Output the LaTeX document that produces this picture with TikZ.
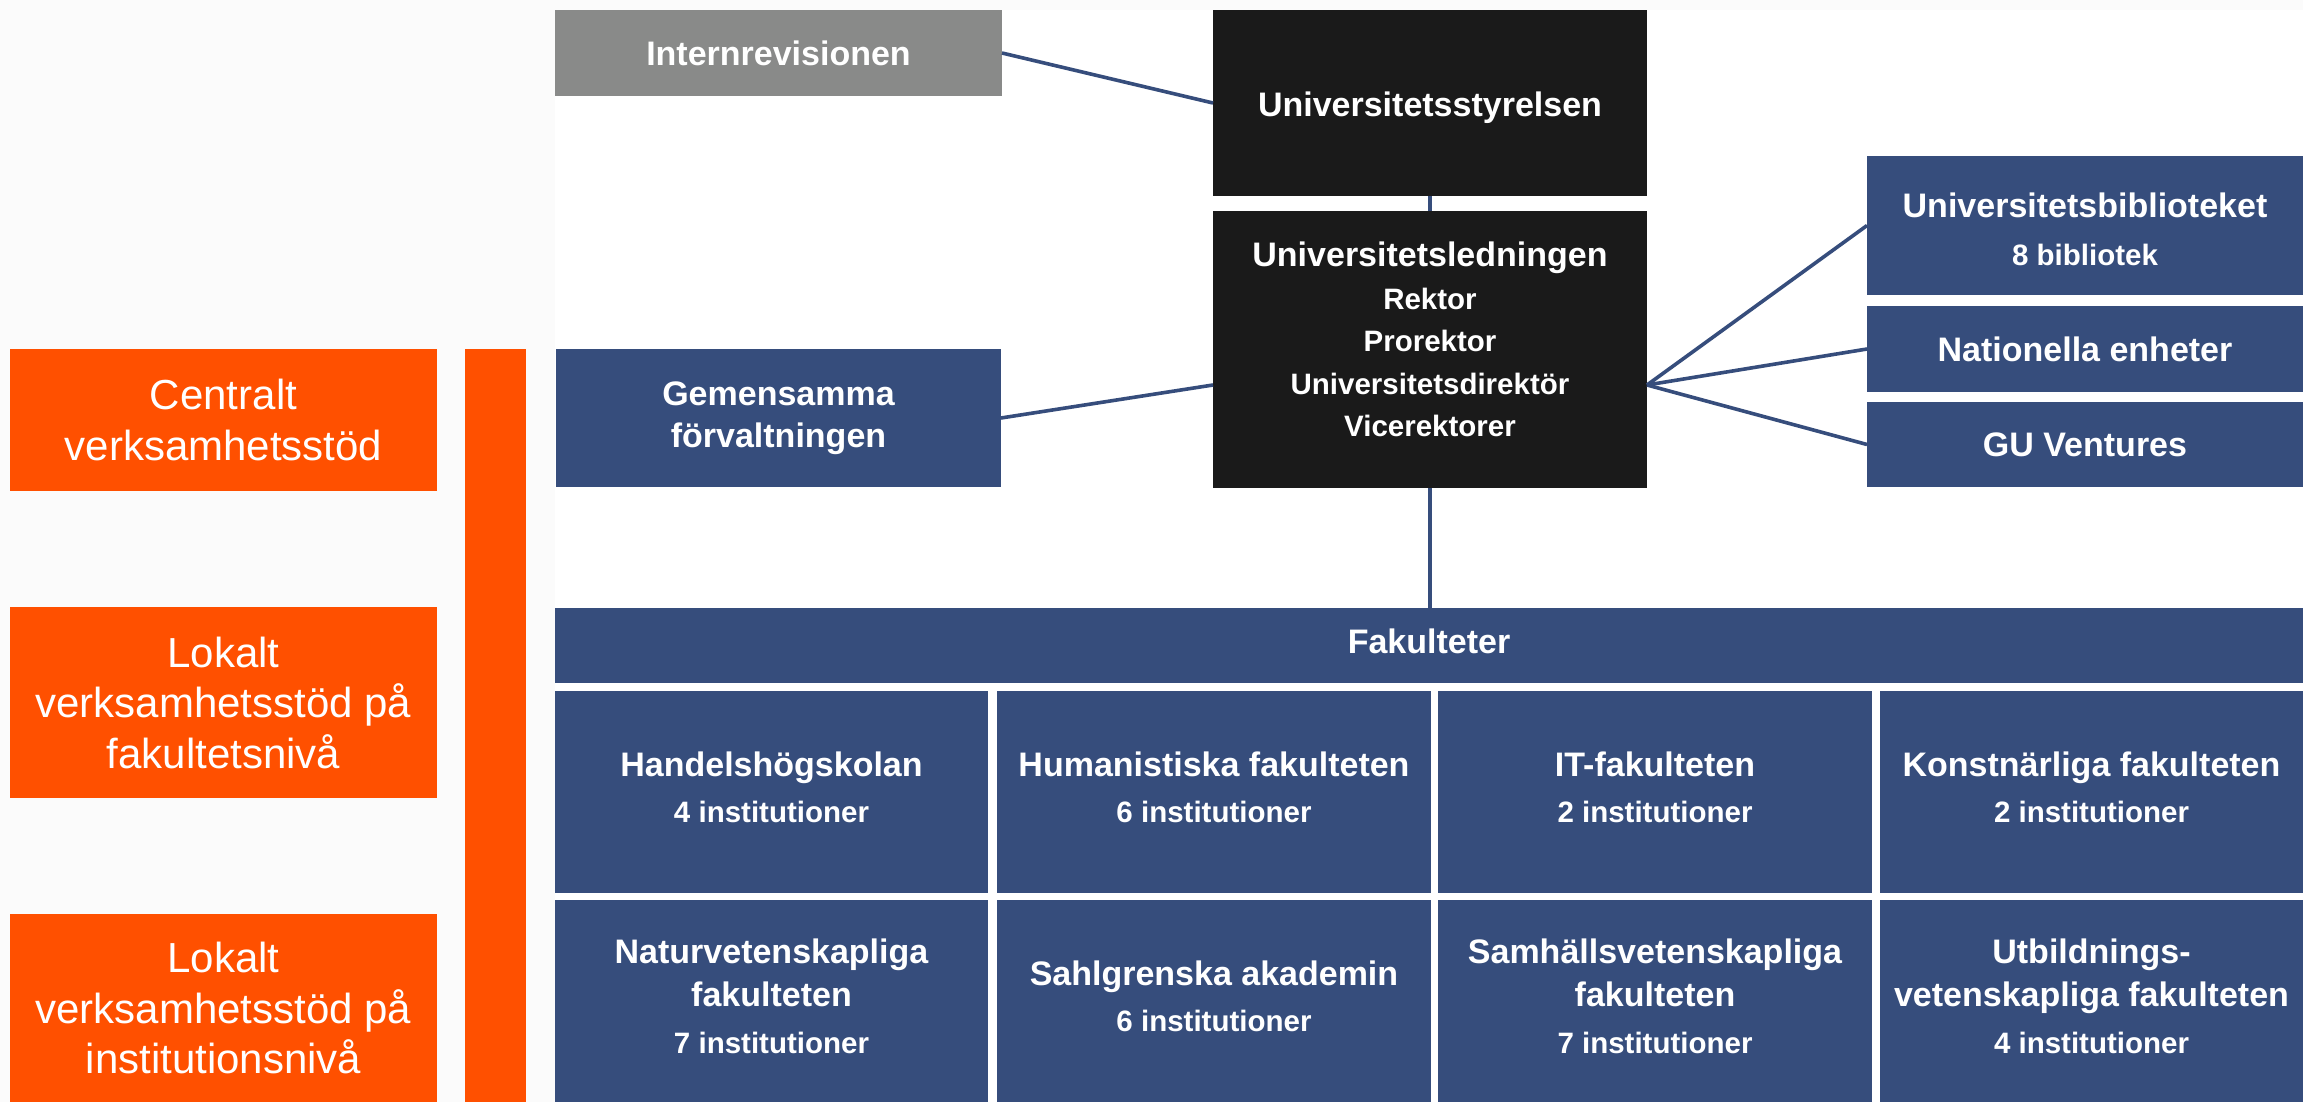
\documentclass[tikz,border=0pt]{standalone}
\usepackage{fontspec}
\setmainfont{Liberation Sans}
\definecolor{navy}{HTML}{364D7C}
\definecolor{guorange}{HTML}{FF5000}
\definecolor{revgray}{HTML}{898A89}
\definecolor{boardblack}{HTML}{1A1A1A}
\definecolor{pagebg}{HTML}{FBFBFB}
\newcommand\subf{\fontsize{14.75}{21.5}\selectfont}
\begin{document}
\begin{tikzpicture}[x=0.5pt,y=-0.5pt,
  area/.style n args={4}{minimum width={(#3-#1)*0.5pt}, minimum height={(#4-#2)*0.5pt}, at={({(#1+#3)/2},{(#2+#4)/2})}},
  box/.style={inner sep=0pt, outer sep=0pt, text=white, align=center},
  navybox/.style={box, fill=navy, font=\fontsize{17}{21.5}\selectfont\bfseries},
  blackbox/.style={box, fill=boardblack, font=\fontsize{17}{21.25}\selectfont\bfseries},
  graybox/.style={box, fill=revgray, font=\fontsize{17}{21.25}\selectfont\bfseries},
  orangebox/.style={box, fill=guorange, font=\fontsize{21}{25.25}\selectfont},
  facbox/.style={navybox, text depth=5pt},
  link/.style={draw=navy, line width=1.8pt}]
\useasboundingbox (0,0) rectangle (2303,1102);
\fill[pagebg] (0,0) rectangle (2303,1102);
\fill[white] (555,10) rectangle (2303,1102);

% left column
\node[orangebox, area={10}{349}{437}{491}] (cen) {Centralt\\verksamhetsstöd};
\node[orangebox, area={10}{607}{437}{798}] (lfak) {Lokalt\\verksamhetsstöd på\\fakultetsnivå};
\node[orangebox, area={10}{914}{437}{1102}] (linst) {Lokalt\\verksamhetsstöd på\\institutionsnivå};
\node[box, fill=guorange, area={465}{349}{526}{1102}] (obar) {};

% top
\node[graybox, area={555}{10}{1002}{96}] (intern) {Internrevisionen};
\node[blackbox, area={1213}{10}{1647}{196}, text height=17.4pt] (styr) {Universitetsstyrelsen};
\node[blackbox, area={1213}{211}{1647}{488}, text depth=10pt] (led) {Universitetsledningen\\{\subf Rektor}\\{\subf Prorektor}\\{\subf Universitetsdirektör}\\{\subf Vicerektorer}};
\node[navybox, area={556}{349}{1001}{487}, font=\fontsize{17}{21}\selectfont\bfseries] (gem) {Gemensamma\\förvaltningen};

% right
\node[navybox, area={1867}{156}{2303}{295}, text height=40.6pt] (bib) {Universitetsbiblioteket\\[2.75pt]{\subf 8 bibliotek}};
\node[navybox, area={1867}{306}{2303}{392}] (nat) {Nationella enheter};
\node[navybox, area={1867}{402}{2303}{487}] (gu) {GU Ventures};

% faculties
\node[navybox, area={555}{608}{2303}{683}, text depth=4pt] (fak) {Fakulteter};
\node[facbox, area={555}{691}{988}{893}] (f1) {Handelshögskolan\\[1.75pt]{\subf 4 institutioner}};
\node[facbox, area={997}{691}{1431}{893}] (f2) {Humanistiska fakulteten\\[1.75pt]{\subf 6 institutioner}};
\node[facbox, area={1438}{691}{1872}{893}] (f3) {IT-fakulteten\\[1.75pt]{\subf 2 institutioner}};
\node[facbox, area={1880}{691}{2303}{893}] (f4) {Konstnärliga fakulteten\\[1.75pt]{\subf 2 institutioner}};
\node[facbox, area={555}{900}{988}{1102}] (f5) {Naturvetenskapliga\\fakulteten\\[1.75pt]{\subf 7 institutioner}};
\node[facbox, area={997}{900}{1431}{1102}] (f6) {Sahlgrenska akademin\\[1.75pt]{\subf 6 institutioner}};
\node[facbox, area={1438}{900}{1872}{1102}] (f7) {Samhällsvetenskapliga\\fakulteten\\[1.75pt]{\subf 7 institutioner}};
\node[facbox, area={1880}{900}{2303}{1102}] (f8) {Utbildnings-\\vetenskapliga fakulteten\\[1.75pt]{\subf 4 institutioner}};

% connectors
\coordinate (hubL) at ([yshift=-17.75pt]led.west);
\coordinate (hubR) at ([yshift=-17.75pt]led.east);
\draw[link] (intern.east) -- (styr.west);
\draw[link] (styr.south) -- (led.north);
\draw[link] (gem.east) -- (hubL);
\draw[link] (hubR) -- (bib.west);
\draw[link] (hubR) -- (nat.west);
\draw[link] (hubR) -- (gu.west);
\draw[link] (led.south) -- (led.south |- fak.north);
\end{tikzpicture}
\end{document}
